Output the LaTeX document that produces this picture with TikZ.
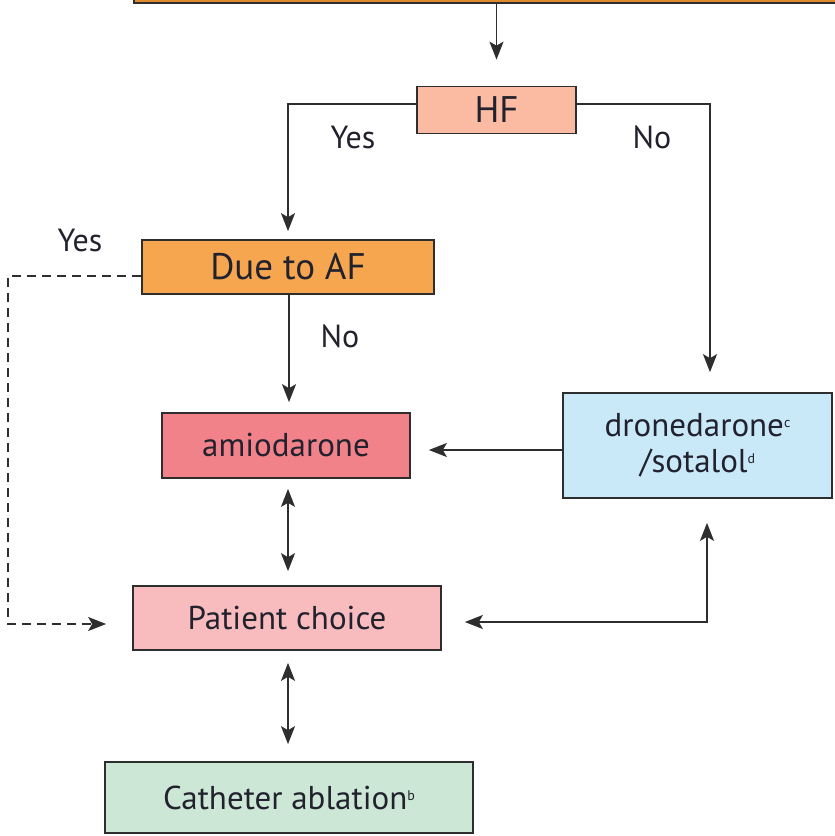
\documentclass[tikz,border=0pt]{standalone}
\usepackage{fontspec}
\setmainfont{PT Sans}
\usetikzlibrary{arrows.meta}
\definecolor{txt}{HTML}{22222E}
\definecolor{ln}{HTML}{2E2E2E}
\definecolor{ctop}{HTML}{DE8A2C}
\definecolor{chf}{HTML}{FBBBA2}
\definecolor{cdue}{HTML}{F7A650}
\definecolor{camio}{HTML}{F2828A}
\definecolor{cdrone}{HTML}{C9E9F9}
\definecolor{cpat}{HTML}{F8BCBE}
\definecolor{ccath}{HTML}{CDE7D6}
\tikzset{
  box/.style={draw=ln, line width=1.7pt, rectangle, inner sep=0pt, text=txt, font=\fontsize{33}{36}\selectfont},
  bigtext/.style={font=\fontsize{37}{40}\selectfont},
  conn/.style={draw=ln, line width=1.7pt, -{Stealth[length=18pt,width=14pt,inset=4pt]}},
  dconn/.style={draw=ln, line width=1.7pt, {Stealth[length=18pt,width=14pt,inset=4pt]}-{Stealth[length=18pt,width=14pt,inset=4pt]}},
  lab/.style={text=txt, font=\fontsize{32}{34}\selectfont, inner sep=0pt},
}
\newcommand{\sups}[1]{\raisebox{9pt}{\fontsize{14}{15}\selectfont #1}}
\begin{document}
\begin{tikzpicture}[x=1pt,y=-1pt]
\path[use as bounding box, clip] (0,0) rectangle (835,836);
\node[box, fill=ctop, minimum width=732pt, minimum height=46pt] (top) at (500,-20) {};
\node[box, bigtext, fill=chf, minimum width=159pt, minimum height=47pt] (hf) at (496.5,110) {HF};
\node[box, bigtext, fill=cdue, minimum width=292pt, minimum height=54pt] (due) at (288,267) {Due to AF};
\node[box, fill=camio, minimum width=248pt, minimum height=65pt] (amio) at (286,445.5) {amiodarone};
\node[box, fill=cdrone, minimum width=269pt, minimum height=105pt, align=center] (drone) at (697.5,445.5) {dronedarone\sups{c}\\/sotalol\sups{d}};
\node[box, fill=cpat, minimum width=308pt, minimum height=64pt] (pat) at (287,618) {Patient choice};
\node[box, fill=ccath, minimum width=368pt, minimum height=71pt] (cath) at (289,797.5) {Catheter ablation\sups{b}};
\coordinate (yesc) at (288,104);
\coordinate (noc) at (710,104);
\coordinate (dl) at (8,276);
\coordinate (dlb) at (8,624);
\coordinate (elb) at (707,622);
% connectors
\draw[conn, shorten >=26pt] (top.south -| hf.north) -- (hf.north);
\draw[conn, shorten >=8pt] (hf.west |- yesc) -- (yesc) -- (due.north -| yesc);
\draw[conn, shorten >=20pt] (hf.east |- noc) -- (noc) -- (drone.north -| noc);
\draw[conn, shorten >=10pt] (due.south -| 289,0) -- (amio.north -| 289,0);
\draw[conn, shorten >=18pt] (drone.west |- 0,450) -- (amio.east |- 0,450);
\draw[dconn, shorten <=10pt, shorten >=14pt] (amio.south -| 288,0) -- (pat.north -| 288,0);
\draw[dconn, shorten <=12pt, shorten >=17pt] (pat.south -| 288,0) -- (cath.north -| 288,0);
\draw[dconn, shorten <=24pt, shorten >=23pt] (drone.south -| elb) -- (elb) -- (pat.east |- elb);
\draw[conn, dashed, dash pattern=on 9pt off 6pt, shorten >=26pt] (due.west |- dl) -- (dl) -- (dlb) -- (pat.west |- dlb);
% labels
\node[lab] (ly1) at (353,137) {Yes};
\node[lab] (ln1) at (652,137) {No};
\node[lab] (ly2) at (80,240) {Yes};
\node[lab] (ln2) at (340,336) {No};
\end{tikzpicture}
\end{document}
